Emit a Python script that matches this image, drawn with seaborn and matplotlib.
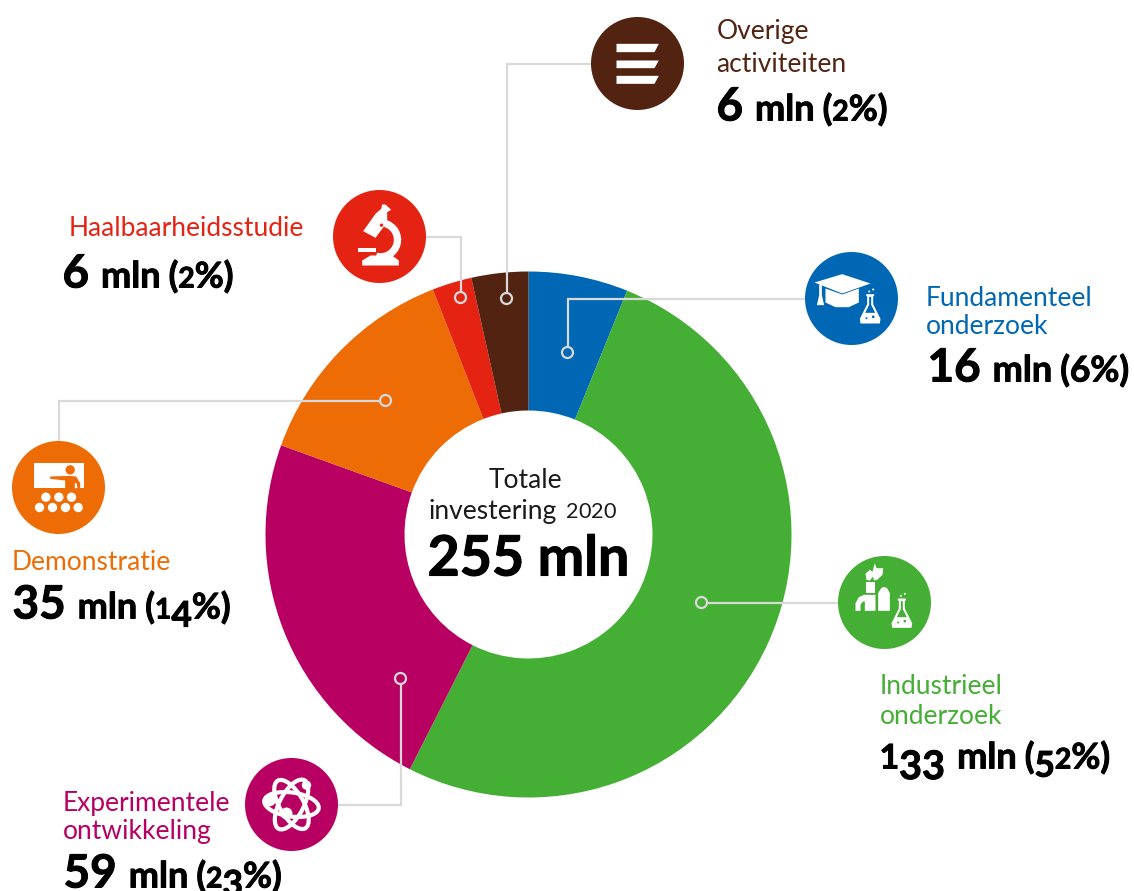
import re
import matplotlib
matplotlib.use('Agg')
import matplotlib.pyplot as plt
import matplotlib.patheffects as pe
import seaborn as sns
from matplotlib.patches import Circle, Ellipse, Polygon, Wedge

categories = ['Fundamenteel onderzoek', 'Industrieel onderzoek', 'Experimentele ontwikkeling',
              'Demonstratie', 'Haalbaarheidsstudie', 'Overige activiteiten']
# wedge sizes as drawn in the picture (the last two are not drawn equal)
wedge_values = [15.6, 130.9, 58.8, 34.6, 6.2, 8.9]
amounts = ['16', '133', '59', '35', '6', '6']
shares = ['(6%)', '(52%)', '(23%)', '(14%)', '(2%)', '(2%)']
colors = ['#0067b4', '#45ae34', '#b80063', '#ed6c05', '#e42313', '#522310']

GREY = '#d9d9d9'
CX, CY = 528, 534

sns.set_theme(style='white')
plt.rcParams['font.family'] = ['Lato', 'DejaVu Sans']

fig = plt.figure(figsize=(11.34, 8.91), dpi=100)
ax = fig.add_axes([0, 0, 1, 1])
palette = sns.color_palette(colors)

ax.pie(wedge_values, colors=palette, center=(CX, CY), radius=263, startangle=-90,
       counterclock=True, wedgeprops={'width': 139, 'linewidth': 0})
ax.set_xlim(-0.5, 1133.5)
ax.set_ylim(890.5, -0.5)
ax.set_aspect('equal')
ax.axis('off')


def leader(points, color, center):
    xs, ys = zip(*points)
    ax.plot(xs, ys, color=GREY, lw=1.6, zorder=3, solid_joinstyle='miter')
    ax.add_patch(Circle(points[-1], 5.5, fc=color, ec=GREY, lw=1.6, zorder=4))
    ax.add_patch(Circle(center, 46.5, fc=color, ec='none', zorder=5))


def rel(pts, c, z):
    # icon points are read from the 3x zoom, z is the circle centre in that zoom
    return [(c[0] + (x - z[0]) / 3, c[1] + (y - z[1]) / 3) for x, y in pts]


def white(pts, c, z, fc='white'):
    ax.add_patch(Polygon(rel(pts, c, z), closed=True, fc=fc, ec='none', zorder=6))


def dot(x, y, r, c, z, fc='white'):
    ax.add_patch(Circle(rel([(x, y)], c, z)[0], r / 3, fc=fc, ec='none', zorder=7))


def flask(x, y, c, z, bg):
    pts = [(19, 0), (43, 0), (43, 6), (40, 6), (40, 30), (62, 74), (60, 88), (2, 88), (0, 74), (22, 30), (22, 6), (19, 6)]
    white([(x + a, y + b) for a, b in pts], c, z)
    inner = [(28, 8), (34, 8), (34, 32), (46, 56), (16, 56), (28, 32)]
    white([(x + a, y + b) for a, b in inner], c, z, fc=bg)
    dot(x + 40, y + 68, 4, c, z, fc=bg)
    dot(x + 20, y + 72, 3, c, z, fc=bg)
    dot(x + 28, y - 8, 3, c, z)
    dot(x + 40, y - 14, 3, c, z)


def icon_lines(c, z=(171, 189)):
    white([(108, 130), (235, 130), (222, 155), (108, 155)], c, z)
    white([(108, 180), (235, 180), (222, 203), (108, 203)], c, z)
    white([(108, 226), (235, 226), (222, 250), (108, 250)], c, z)


def icon_microscope(c, bg, z=(177, 168)):
    a = rel([(180, 178)], c, z)[0]
    ax.add_patch(Wedge(a, 62 / 3, -75, 105, width=22 / 3, fc='white', ec='none', zorder=6))
    white([(128, 152), (165, 100), (182, 85), (185, 72), (195, 72), (212, 88), (200, 95), (200, 125), (165, 172)], c, z)
    dot(183, 134, 5, c, z, fc=bg)
    white([(112, 202), (165, 202), (165, 215), (112, 215)], c, z)
    white([(125, 255), (125, 240), (150, 225), (215, 225), (235, 240), (235, 255)], c, z)


def icon_cap(c, bg, z=(168, 160)):
    white([(90, 130), (140, 148), (190, 130), (190, 172), (160, 186), (120, 186), (90, 172)], c, z)
    white([(57, 112), (140, 87), (225, 115), (140, 145)], c, z)
    white([(71, 118), (79, 118), (79, 150), (86, 180), (64, 180), (71, 150)], c, z)
    flask(193, 147, c, z, bg)


def icon_factory(c, bg, z=(162, 158)):
    white([(107, 97), (133, 97), (133, 130), (107, 130)], c, z)
    white([(75, 183), (75, 160), (85, 142), (100, 135), (135, 135), (135, 183), (103, 183), (103, 155),
           (97, 155), (90, 165), (90, 183)], c, z)
    white([(143, 183), (143, 130), (152, 115), (160, 111), (170, 115), (178, 130), (178, 183)], c, z)
    white([(133, 40), (138, 55), (158, 55), (156, 75), (140, 90), (130, 92), (128, 80), (118, 92), (108, 90),
           (105, 72), (118, 60), (126, 66)], c, z)
    flask(183, 146, c, z, bg)


def icon_atom(c, z=(165, 163)):
    for angle in (8, 60, 118):
        ax.add_patch(Ellipse(c, 55, 24, angle=angle, fc='none', ec='white', lw=3, zorder=6))
    dot(100, 150, 18, c, z)
    dot(150, 190, 18, c, z)
    dot(210, 105, 14, c, z)


def icon_classroom(c, bg, z=(175, 158)):
    white([(100, 85), (250, 85), (250, 160), (100, 160)], c, z)
    dot(210, 105, 14, c, z, fc=bg)
    white([(150, 125), (205, 123), (228, 125), (240, 145), (240, 160), (195, 160), (195, 137), (150, 132)], c, z, fc=bg)
    white([(224, 145), (229, 145), (232, 160), (224, 160)], c, z)
    for x in (137, 176, 214):
        dot(x, 187, 14, c, z)
    for x in (118, 157, 196, 234):
        dot(x, 218, 14, c, z)


def label(x, y, lines, step, color, size=19):
    for i, line in enumerate(lines):
        ax.text(x, y + i * step, line, color=color, fontsize=size, ha='left', va='baseline', zorder=8)


def run(x, y, s, size, weight='bold', color='black', oldstyle=True, small=0.8, tall=1.0):
    # the original font has old style figures, Lato does not: scale or drop the digits
    renderer = fig.canvas.get_renderer()
    tokens = re.findall(r'\d|\D+', s) if oldstyle else [s]
    for token in tokens:
        fs, dy = size, 0
        if oldstyle and token in '120':
            fs = size * small
        elif oldstyle and token in '3457':
            fs = size * tall
            dy = size * 0.32
        t = ax.text(x, y + dy, token, color=color, fontsize=fs, fontweight=weight, va='baseline', zorder=8)
        if weight == 'bold':
            t.set_path_effects([pe.withStroke(linewidth=0.7, foreground=color)])
        x = t.get_window_extent(renderer).x1 - 0.5
    return x


def amount(x, y, big, share, old_big=False):
    x1 = run(x - 1, y, big, 33, oldstyle=old_big, small=0.74, tall=0.86)
    x2 = run(x1 + 12, y, 'mln', 26, oldstyle=False)
    run(x2 + 8, y, share, 25.5)


# leaders run from the icon to a small ring on the wedge
leader([(591, 63), (506, 63), (506, 298)], colors[5], (637, 63))
leader([(425, 236), (460, 236), (460, 297)], colors[4], (379, 236))
leader([(805, 298), (567, 298), (567, 352)], colors[0], (851, 298))
leader([(838, 602), (701, 602)], colors[1], (884, 602))
leader([(337, 804), (400, 804), (400, 678)], colors[2], (291, 804))
leader([(58, 441), (58, 400), (385, 400)], colors[3], (58, 487))

icon_lines((637, 63))
icon_microscope((379, 236), colors[4])
icon_cap((851, 298), colors[0])
icon_factory((884, 602), colors[1])
icon_atom((291, 804))
icon_classroom((58, 487), colors[3])

label(716, 38, ['Overige', 'activiteiten'], 34, colors[5])
amount(717, 120, amounts[5], shares[5])
label(68, 235, ['Haalbaarheidsstudie'], 0, colors[4])
amount(63, 287, amounts[4], shares[4])
label(925, 305, ['Fundamenteel', 'onderzoek'], 28, colors[0])
amount(928, 381, amounts[0], shares[0])
label(879, 694, ['Industrieel', 'onderzoek'], 29, colors[1])
amount(880, 768, amounts[1], shares[1], old_big=True)
label(62, 810, ['Experimentele', 'ontwikkeling'], 28, colors[2])
amount(64, 887, amounts[2], shares[2])
label(11, 569, ['Demonstratie'], 0, colors[3])
amount(13, 618, amounts[3], shares[3])

ax.text(525, 488, 'Totale', color='#1a1a1a', fontsize=19, ha='center', va='baseline', zorder=8)
x_end = run(428, 518, 'investering', 19, weight='normal', color='#1a1a1a', oldstyle=False)
run(x_end + 9, 518, '2020', 19, weight='normal', color='#1a1a1a', small=0.82)
t = ax.text(CX, 575, '255 mln', color='black', fontsize=40, fontweight='bold', ha='center', va='baseline', zorder=8)
t.set_path_effects([pe.withStroke(linewidth=0.8, foreground='black')])

fig.savefig('out.png', dpi=100, facecolor='white')
